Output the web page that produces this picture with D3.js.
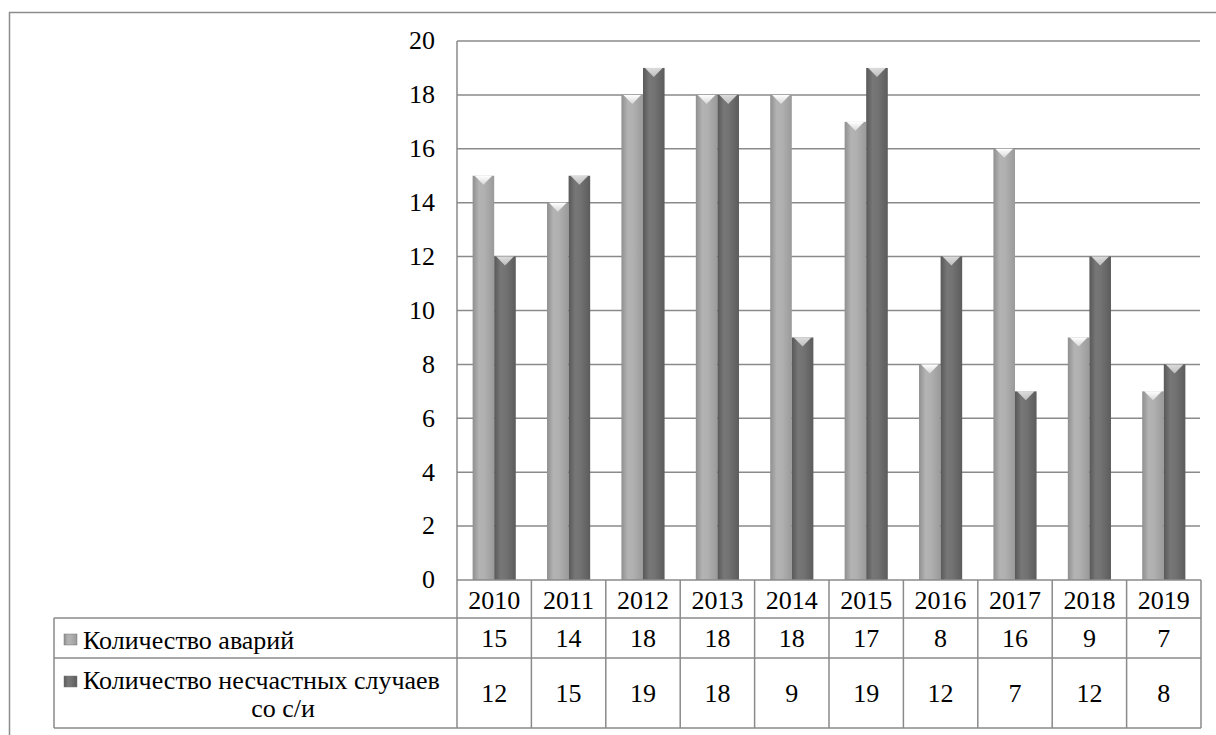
<!DOCTYPE html>
<html><head><meta charset="utf-8">
<script src="https://cdn.jsdelivr.net/npm/d3@7"></script>
</head><body style="margin:0"><svg id="c" width="1216" height="735" font-family="serif"></svg>
<script>
const years = ["2010","2011","2012","2013","2014","2015","2016","2017","2018","2019"];
const seriesNames = ["Количество аварий", "Количество несчастных случаев со с/и"];
const accidents = [15,14,18,18,18,17,8,16,9,7];
const casualties = [12,15,19,18,9,19,12,7,12,8];
const yTicks = [0,2,4,6,8,10,12,14,16,18,20];

const svg = d3.select("#c");
const L = 457, R = 1201, T = 41, B = 580;
const FS = 26;
const grid = "#8a8a8a";

const defs = svg.append("defs");
function grad(id, stops){
  const g = defs.append("linearGradient").attr("id", id).attr("x1","0").attr("x2","1").attr("y1","0").attr("y2","0");
  stops.forEach(s => g.append("stop").attr("offset", s[0]).attr("stop-color", s[1]));
}
grad("gLight", [[0,"#8f8f8f"],[0.3,"#b3b3b3"],[0.55,"#b0b0b0"],[1,"#9a9a9a"]]);
grad("gDark", [[0,"#585858"],[0.3,"#777777"],[0.55,"#727272"],[1,"#5c5c5c"]]);
const tg = defs.append("linearGradient").attr("id","gTop").attr("x1","0").attr("x2","0").attr("y1","0").attr("y2","1");
tg.append("stop").attr("offset",0).attr("stop-color","#ffffff");
tg.append("stop").attr("offset",1).attr("stop-color","#d8d8d8");

function txt(sel){ return sel.attr("font-family", "serif").attr("font-size", FS); }

// outer border
svg.append("rect").attr("x",9.5).attr("y",12.5).attr("width",1220).attr("height",740)
  .attr("fill","none").attr("stroke","#8c8c8c").attr("stroke-width",1.5);

const x = d3.scaleBand().domain(years).range([L, R]).paddingInner(0.42).paddingOuter(0.21);
const xs = d3.scaleBand().domain([0,1]).range([0, x.bandwidth()]);
const y = d3.scaleLinear().domain([0,20]).range([B, T]);

// gridlines
svg.append("g").selectAll("line").data(yTicks.filter(d=>d>0)).join("line")
  .attr("x1", L).attr("x2", R-1).attr("y1", d=>y(d)).attr("y2", d=>y(d))
  .attr("stroke", grid).attr("stroke-width", 1.5);
svg.append("line").attr("x1",L).attr("x2",L).attr("y1",T).attr("y2",B).attr("stroke",grid).attr("stroke-width",1.5);

// y tick labels
txt(svg.append("g").selectAll("text").data(yTicks).join("text")
  .attr("x", L-22).attr("y", d=>y(d)).attr("dy","0.32em").attr("text-anchor","end").text(d=>d));

// bars
const data = [];
years.forEach((yr,i)=>{ data.push({yr, s:0, v:accidents[i]}); data.push({yr, s:1, v:casualties[i]}); });
const bars = svg.append("g").selectAll("g").data(data).join("g")
  .attr("transform", d=>`translate(${x(d.yr)+xs(d.s)},0)`);
bars.append("rect").attr("x",0).attr("y",d=>y(d.v)).attr("width",xs.bandwidth()).attr("height",d=>B-y(d.v))
  .attr("fill", d=> d.s===0 ? "url(#gLight)" : "url(#gDark)");
bars.append("path").attr("d", d=>{
  const w = xs.bandwidth(), t = y(d.v);
  return `M2,${t} L${w-2},${t} L${w/2},${t+9} Z`;
}).attr("fill","url(#gTop)").attr("opacity", d=> d.s===0 ? 1 : 0.75);

// table
const r1 = 618, r2 = 658, r3 = 728, LX = 54;
const tl = svg.append("g").attr("stroke", grid).attr("stroke-width", 1.5);
tl.append("line").attr("x1",L).attr("x2",R).attr("y1",B).attr("y2",B);
[r1, r2, r3].forEach(r => tl.append("line").attr("x1",LX).attr("x2",R).attr("y1",r).attr("y2",r));
tl.append("line").attr("x1",LX).attr("x2",LX).attr("y1",r1).attr("y2",r3);
const colEdges = years.map(yr => x(yr) - x.step()*x.paddingInner()/2).concat([R]);
tl.selectAll(".v").data(colEdges).join("line").attr("x1",d=>d).attr("x2",d=>d).attr("y1",B).attr("y2",r3);

const tt = svg.append("g");
txt(tt.selectAll(".yr").data(years).join("text").attr("text-anchor","middle").attr("x", d=>x(d)+x.bandwidth()/2).attr("y", 609).text(d=>d));
txt(tt.selectAll(".a").data(accidents).join("text").attr("text-anchor","middle").attr("x",(d,i)=>x(years[i])+x.bandwidth()/2).attr("y", 647).text(d=>d));
txt(tt.selectAll(".c").data(casualties).join("text").attr("text-anchor","middle").attr("x",(d,i)=>x(years[i])+x.bandwidth()/2).attr("y", 702).text(d=>d));

// legend keys
const keyG = svg.append("g");
[["url(#gLight)", 634],["url(#gDark)", 676]].forEach(k=>{
  keyG.append("rect").attr("x",64).attr("y",k[1]).attr("width",13).attr("height",11).attr("fill",k[0]).attr("stroke","#777").attr("stroke-width",0.5);
});
const lt = svg.append("g");
txt(lt.append("text").attr("x",83).attr("y",649).text(seriesNames[0]));
txt(lt.append("text").attr("x",83).attr("y",689).text("Количество несчастных случаев"));
txt(lt.append("text").attr("x",283).attr("y",717).attr("text-anchor","middle").text("со с/и"));
</script></body></html>
